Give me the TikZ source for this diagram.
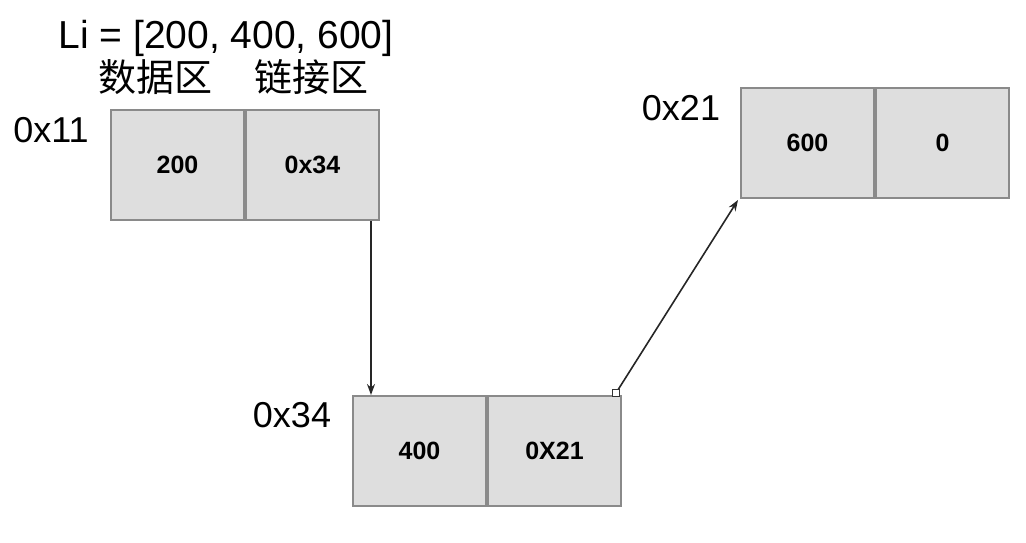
\documentclass[tikz,border=0pt]{standalone}
\usepackage{fontspec}
\setmainfont{Liberation Sans}
\newfontfamily\cjk{Noto Sans CJK SC}
\usetikzlibrary{positioning,arrows.meta}
\definecolor{cellfill}{HTML}{DEDEDE}
\definecolor{celldraw}{HTML}{8A8A8A}
\begin{document}
\begin{tikzpicture}[x=1pt,y=-1pt,
  cell/.style={draw=celldraw, line width=2pt, fill=cellfill, inner sep=0pt,
    minimum width=133pt, minimum height=110pt, font=\fontsize{25}{30}\selectfont\bfseries},
  addr/.style={anchor=base, font=\fontsize{36}{40}\selectfont},
  zone/.style={font=\fontsize{38}{40}\selectfont\cjk},
  link/.style={draw=black!85, line width=1.6pt, -{Stealth[length=11pt,width=8pt]}}]
  \useasboundingbox (0,0) rectangle (1026,543);
  \node[anchor=base, font=\fontsize{39}{42}\selectfont] (title) at (226,49) {Li = [200, 400, 600]};
  \node[zone] (data) at (155,77) {数据区};
  \node[zone] (next) at (311,77) {链接区};
  \node[cell, anchor=north west] (n1d) at (110,109) {200};
  \node[cell, right=0pt of n1d] (n1l) {0x34};
  \node[cell, anchor=north west] (n2d) at (352,395) {400};
  \node[cell, right=0pt of n2d] (n2l) {0X21};
  \node[cell, anchor=north west] (n3d) at (740,87) {600};
  \node[cell, right=0pt of n3d] (n3l) {0};
  \node[addr] (a1) at (51,142) {0x11};
  \node[addr] (a2) at (292,427) {0x34};
  \node[addr] (a3) at (681,121) {0x21};
  \coordinate (p1) at ([xshift=-9pt]n1l.south east);
  \coordinate (p2) at ([xshift=-6pt,yshift=2pt]n2l.north east);
  \coordinate (p3) at ([xshift=-2pt,yshift=-1pt]n3d.south west);
  \draw[link] (p1) -- (p1 |- n2d.north);
  \draw[link] (p2) -- (p3);
  \draw[draw=black!80, fill=white, line width=1pt] ([shift={(-3.5pt,-3.5pt)}]p2) rectangle ([shift={(3.5pt,3.5pt)}]p2);
\end{tikzpicture}
\end{document}
